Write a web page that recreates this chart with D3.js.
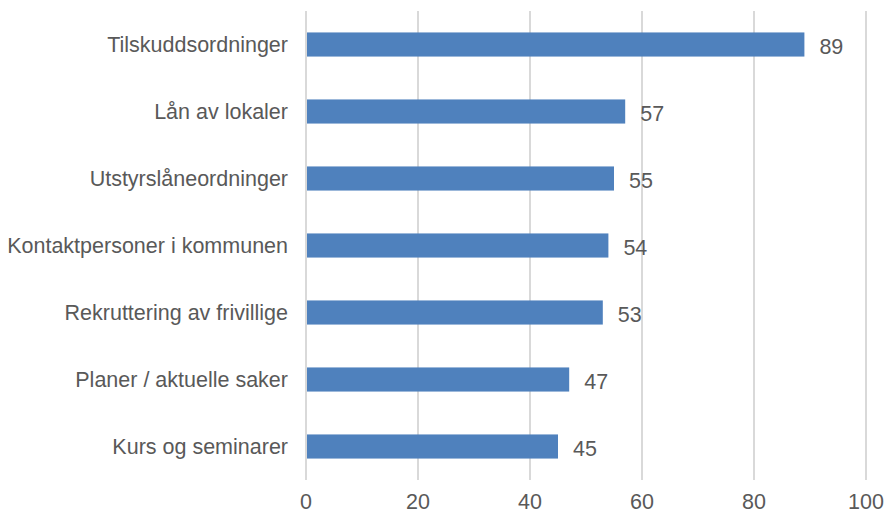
<!DOCTYPE html>
<html>
<head>
<meta charset="utf-8">
<script src="https://cdn.jsdelivr.net/npm/d3@7"></script>
<style>
  body { margin: 0; background: #fff; overflow: hidden; }
  text { font-family: "Liberation Sans", Arial, sans-serif; fill: #595959; }
</style>
</head>
<body>
<div id="chart"></div>
<script>
"use strict";

var categories = ["Tilskuddsordninger", "Lån av lokaler", "Utstyrslåneordninger",
                  "Kontaktpersoner i kommunen", "Rekruttering av frivillige",
                  "Planer / aktuelle saker", "Kurs og seminarer"];
var values = [89, 57, 55, 54, 53, 47, 45];
var xTicks = [0, 20, 40, 60, 80, 100];

function barChart() {
    var w = 887;
    var h = 514;
    var left = 306, right = 866, top = 11, bottom = 480;
    var fs = "21.5px";

    var svg = d3.select("#chart")
                .append("svg")
                .attr("width", w)
                .attr("height", h)
                .style("display", "block");

    var x = d3.scaleLinear().domain([0, 100]).range([left, right]);
    var y = d3.scaleBand().domain(categories).range([top, bottom]).paddingInner(0.64).paddingOuter(0.32);

    // gridlines
    svg.selectAll("line.grid")
        .data(xTicks)
        .enter()
        .append("line")
        .attr("x1", function(d){ return x(d); })
        .attr("x2", function(d){ return x(d); })
        .attr("y1", top)
        .attr("y2", bottom)
        .attr("stroke", "#d9d9d9")
        .attr("stroke-width", 2);

    svg.selectAll("rect")
        .data(values)
        .enter()
        .append("rect")
        .attr("x", x(0) + 1)
        .attr("y", function(d, i){ return y(categories[i]); })
        .attr("width", function(d){ return x(d) - x(0) - 1; })
        .attr("height", y.bandwidth())
        .attr("fill", "#4f81bd");

    // value labels
    svg.selectAll("text.val")
        .data(values)
        .enter()
        .append("text")
        .attr("class", "val")
        .attr("x", function(d){ return x(d) + 15; })
        .attr("y", function(d, i){ return y(categories[i]) + y.bandwidth() / 2 + 9; })
        .style("font-size", fs)
        .text(function(d){ return d; });

    // category labels
    svg.selectAll("text.cat")
        .data(categories)
        .enter()
        .append("text")
        .attr("class", "cat")
        .attr("x", left - 18)
        .attr("y", function(d){ return y(d) + y.bandwidth() / 2 + 7; })
        .attr("text-anchor", "end")
        .style("font-size", fs)
        .text(function(d){ return d; });

    // x tick labels
    svg.selectAll("text.tick")
        .data(xTicks)
        .enter()
        .append("text")
        .attr("class", "tick")
        .attr("x", function(d){ return x(d); })
        .attr("y", 509)
        .attr("text-anchor", "middle")
        .style("font-size", fs)
        .text(function(d){ return d; });
}

window.onload = barChart;
</script>
</body>
</html>
